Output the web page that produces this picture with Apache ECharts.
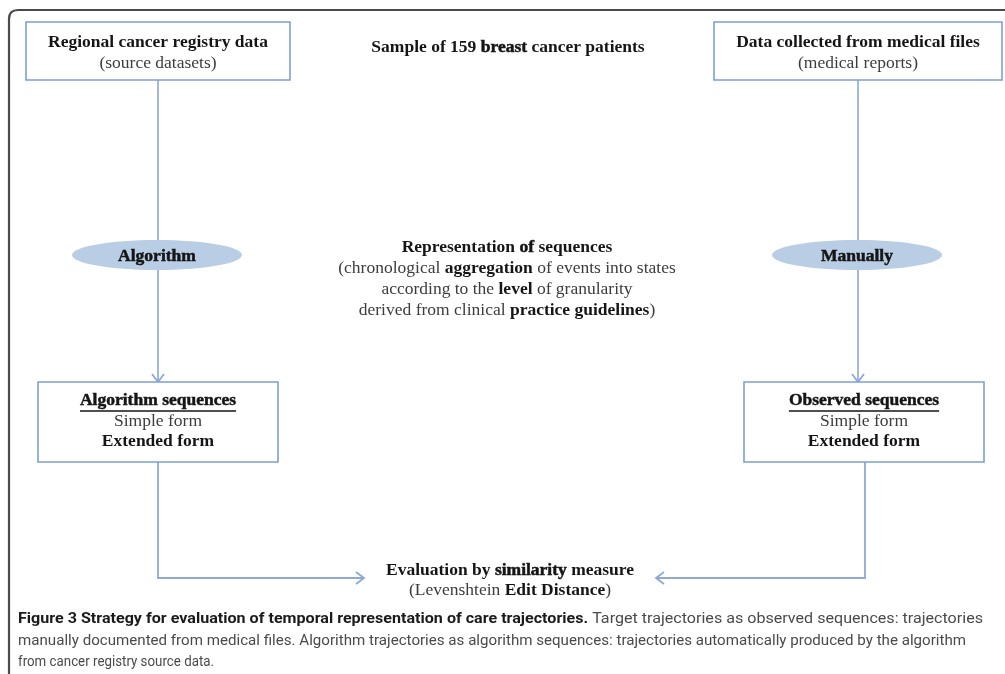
<!DOCTYPE html>
<html><head><meta charset="utf-8">
<script src="https://cdn.jsdelivr.net/npm/echarts@6/dist/echarts.min.js"></script>
<style>html,body{margin:0;padding:0;background:#fff}#c{width:1005px;height:674px}</style>
</head><body><div id="c"></div>
<script>
// ---------- content ----------
const sourceTitles = ['Regional cancer registry data', 'Data collected from medical files'];
const sourceNotes = ['(source datasets)', '(medical reports)'];
const methodLabels = ['Algorithm', 'Manually'];
const sequenceTitles = ['Algorithm sequences', 'Observed sequences'];
const sequenceForms = ['Simple form', 'Extended form'];
const sampleLine = '{b|Sample of 159 }{bb|breast}{b| cancer patients}';
const representationLines = [
  '{b|Representation }{bb|of}{b| sequences}',
  '{n|(chronological }{b|aggregation}{n| of events into states}',
  '{n|according to the }{b|level}{n| of granularity}',
  '{n|derived from clinical }{b|practice guidelines}{n|)}'
];
const evaluationLines = [
  '{b|Evaluation by }{bb|similarity}{b| measure}',
  '{n|(Levenshtein }{b|Edit Distance}{n|)}'
];
const captionBold = 'Figure 3 Strategy for evaluation of temporal representation of care trajectories.';
const captionLines = [
  ' Target trajectories as observed sequences: trajectories',
  'manually documented from medical files. Algorithm trajectories as algorithm sequences: trajectories automatically produced by the algorithm',
  'from cancer registry source data.'
];

// ---------- layout (frame of 1005 x 674 units) ----------
const L = {
  frame: {x: 9, y: 10, r: 9, right: 1005, bottom: 674},
  sourceBoxes: [[26, 22, 290, 80], [714, 22, 1002, 80]],
  sourceLineY: [42, 63],
  methodEllipses: [[157, 255, 85, 15], [857, 255, 85, 15]],
  sequenceBoxes: [[38, 382, 278, 462], [744, 382, 984, 462]],
  sequenceLineY: [400, 421, 441],
  underlineY: 411,
  downLinks: [[158, 80, 158, 382], [858, 80, 858, 382]],
  bottomLinks: [[[158, 462], [158, 578], [364, 578]], [[865, 462], [865, 578], [656, 578]]],
  sample: [508, 47],
  representation: {x: 507, y: [247, 268, 289, 310]},
  evaluation: {x: 510, y: [570, 590]},
  caption: {x: 18, y: [619, 641, 662], widths: [965, 948, 196]}
};

const SERIF = '"Liberation Serif", "Times New Roman", serif';
const FS = 17.5;
const CAP_FONT = 'Roboto, "Noto Sans", sans-serif';
const CFS = 14;
const INK = '#151515', GREY = '#3c3c3c';
const BOX = '#7e9ed2', LINK = '#8da8d9', ELL = '#b9cde5';

const mctx = document.createElement('canvas').getContext('2d');
function measure(font, s) { mctx.font = font; return mctx.measureText(s).width; }
const capNatural = [
  measure('bold ' + CFS + 'px ' + CAP_FONT, captionBold) + measure(CFS + 'px ' + CAP_FONT, captionLines[0]),
  measure(CFS + 'px ' + CAP_FONT, captionLines[1]),
  measure(CFS + 'px ' + CAP_FONT, captionLines[2])
];
const capScales = capNatural.map((w, i) => L.caption.widths[i] / w);

const rich = {
  b: {font: 'bold ' + FS + 'px ' + SERIF, fill: INK},
  bb: {font: 'bold ' + FS + 'px ' + SERIF, fill: INK, stroke: INK, lineWidth: 0.5},
  n: {font: FS + 'px ' + SERIF, fill: GREY},
  cb: {font: 'bold ' + CFS + 'px ' + CAP_FONT, fill: '#1a1a1a'},
  cn: {font: CFS + 'px ' + CAP_FONT, fill: '#4a4a4a'}
};

function renderItem(params, api) {
  const c = (x, y) => api.coord([x, y]);
  const kids = [];
  const text = (x, y, t, align, extra) => {
    const p = c(x, y);
    return Object.assign({type: 'text', x: p[0], y: p[1], style: {
      legacy: false, text: t, rich: rich, font: FS + 'px ' + SERIF, fill: INK,
      align: align || 'center', verticalAlign: 'middle'
    }}, extra || {});
  };
  const rect = (b, stroke) => {
    const p0 = c(b[0], b[1]), p1 = c(b[2], b[3]);
    return {type: 'rect', shape: {x: p0[0], y: p0[1], width: p1[0] - p0[0], height: p1[1] - p0[1]},
      style: {fill: '#fff', stroke: stroke, lineWidth: 1.6}};
  };
  const chevron = (tip, dx, dy) => {
    const len = 8, hw = 6;
    const bx = tip[0] - dx * len, by = tip[1] - dy * len;
    const a = c(bx - dy * hw, by + dx * hw), t = c(tip[0], tip[1]), b = c(bx + dy * hw, by - dx * hw);
    return {type: 'polyline', shape: {points: [a, t, b]}, style: {stroke: LINK, lineWidth: 1.8, fill: null}};
  };

  // outer frame
  const f = L.frame;
  const fb = c(f.x, f.bottom), fc = c(f.x, f.y), fr = c(f.right, f.y);
  kids.push({type: 'path', shape: {pathData:
    'M' + fb[0] + ' ' + fb[1] + ' L' + fc[0] + ' ' + (fc[1] + f.r) +
    ' Q' + fc[0] + ' ' + fc[1] + ' ' + (fc[0] + f.r) + ' ' + fc[1] +
    ' L' + fr[0] + ' ' + fr[1]}, style: {stroke: '#4a4a4a', lineWidth: 2.2, fill: null}});

  // vertical links with arrows
  L.downLinks.forEach(d => {
    const a = c(d[0], d[1]), b = c(d[2], d[3]);
    kids.push({type: 'line', shape: {x1: a[0], y1: a[1], x2: b[0], y2: b[1]}, style: {stroke: LINK, lineWidth: 1.6}});
    kids.push(chevron([d[2], d[3]], 0, 1));
  });
  // bottom links
  L.bottomLinks.forEach(pts => {
    kids.push({type: 'polyline', shape: {points: pts.map(p => c(p[0], p[1]))}, style: {stroke: LINK, lineWidth: 1.8, fill: null}});
    const a = pts[pts.length - 2], t = pts[pts.length - 1];
    kids.push(chevron(t, Math.sign(t[0] - a[0]), 0));
  });

  // source boxes
  L.sourceBoxes.forEach((b, i) => {
    kids.push(rect(b, BOX));
    const cx = (b[0] + b[2]) / 2;
    kids.push(text(cx, L.sourceLineY[0], '{b|' + sourceTitles[i] + '}'));
    kids.push(text(cx, L.sourceLineY[1], '{n|' + sourceNotes[i] + '}'));
  });

  // method ellipses
  L.methodEllipses.forEach((e, i) => {
    const p = c(e[0], e[1]), q = c(e[0] + e[2], e[1] + e[3]);
    kids.push({type: 'ellipse', shape: {cx: p[0], cy: p[1], rx: q[0] - p[0], ry: q[1] - p[1]}, style: {fill: ELL}});
    kids.push(text(e[0], e[1] + 1, '{bb|' + methodLabels[i] + '}'));
  });

  // sequence boxes
  L.sequenceBoxes.forEach((b, i) => {
    kids.push(rect(b, BOX));
    const cx = (b[0] + b[2]) / 2;
    kids.push(text(cx, L.sequenceLineY[0], '{bb|' + sequenceTitles[i] + '}'));
    const w = measure('bold ' + FS + 'px ' + SERIF, sequenceTitles[i]);
    const u0 = c(cx - w / 2, L.underlineY), u1 = c(cx + w / 2, L.underlineY);
    kids.push({type: 'line', shape: {x1: u0[0], y1: u0[1], x2: u1[0], y2: u1[1]}, style: {stroke: INK, lineWidth: 1.3}});
    kids.push(text(cx, L.sequenceLineY[1], '{n|' + sequenceForms[0] + '}'));
    kids.push(text(cx, L.sequenceLineY[2], '{b|' + sequenceForms[1] + '}'));
  });

  // central texts
  kids.push(text(L.sample[0], L.sample[1], sampleLine));
  representationLines.forEach((t, i) => kids.push(text(L.representation.x, L.representation.y[i], t)));
  evaluationLines.forEach((t, i) => kids.push(text(L.evaluation.x, L.evaluation.y[i], t)));

  // caption
  const capTexts = ['{cb|' + captionBold + '}{cn|' + captionLines[0] + '}', '{cn|' + captionLines[1] + '}', '{cn|' + captionLines[2] + '}'];
  capTexts.forEach((t, i) => kids.push(text(L.caption.x, L.caption.y[i], t, 'left', {scaleX: capScales[i]})));

  return {type: 'group', children: kids};
}

const chart = echarts.init(document.getElementById('c'), null, {renderer: 'canvas'});
chart.setOption({
  animation: false,
  backgroundColor: '#ffffff',
  grid: {left: 0, right: 0, top: 0, bottom: 0},
  xAxis: {type: 'value', min: 0, max: 1005, show: false},
  yAxis: {type: 'value', min: 0, max: 674, inverse: true, show: false},
  series: [{type: 'custom', coordinateSystem: 'cartesian2d', silent: true, clip: false,
    data: [[0, 0]], renderItem: renderItem}]
});
</script></body></html>
